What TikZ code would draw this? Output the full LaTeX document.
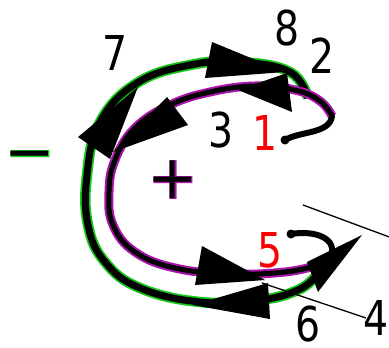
\documentclass[tikz,border=0pt]{standalone}
\usepackage{fontspec}
\setmainfont{DejaVu Sans}
\newfontfamily\numfont[FakeStretch=0.82]{DejaVu Sans}
\definecolor{cGlow}{RGB}{20,200,20}
\definecolor{cPurple}{RGB}{170,20,170}
\definecolor{cRed}{RGB}{250,0,0}
\tikzset{
  outerpath/.style={line width=7pt, black, preaction={draw=cGlow, line width=10.5pt}},
  innerpath/.style={line width=5pt, black, preaction={draw=cPurple, line width=9pt}},
  hookline/.style={line width=6pt, line cap=round},
  headtri/.style={fill=black},
  leader/.style={line width=1.3pt},
  num/.style={font=\numfont\fontsize{48}{48}\selectfont, inner sep=0pt, text depth=0pt},
  rednum/.style={num, text=cRed},
  sign/.style={font=\fontsize{60}{60}\selectfont, inner sep=0pt},
}

\begin{document}
\begin{tikzpicture}[x=1pt,y=-1pt]
  \useasboundingbox (0,0) rectangle (389,348);

  % ---- outer loop (6, 7, 8) ----
  \draw[outerpath] plot[smooth, tension=0.7] coordinates {(308,98) (290,72) (240,62) (190,65)
    (137,83) (100,122) (87,175) (88,225) (105,262) (140,288) (200,302) (260,300) (298,290) (316,276)};

  % ---- inner loop (1 .. 5) ----
  \draw[innerpath] plot[smooth, tension=0.7] coordinates {(332,116) (320,101) (295,90) (255,86)
    (210,92) (170,105) (135,128) (115,160) (109,192) (113,225) (135,252) (175,268) (230,274)
    (285,272) (318,265)};

  % ---- hooks ----
  \coordinate (hookA) at (332,116);
  \coordinate (dotA) at (285,140);
  \draw[hookline] (hookA) .. controls (330,134) and (300,131) .. (dotA);
  \fill (dotA) circle (4.5pt);
  \coordinate (dotB) at (291,234);
  \coordinate (hookB) at (330,260);
  \draw[hookline] (dotB) .. controls (315,230) and (340,238) .. (hookB);
  \fill (dotB) circle (4.5pt);

  % ---- arrow heads ----
  \fill[headtri] (212,42) -- (285,72) -- (205,78) -- cycle;   % 8
  \fill[headtri] (238,90) -- (287,73) -- (292,112) -- cycle;  % 2
  \fill[headtri] (113,152) -- (167,97) -- (188,125) -- cycle; % 3
  \fill[headtri] (138,87) -- (110,159) -- (78,137) -- cycle;  % 7
  \fill[headtri] (202,246) -- (265,280) -- (195,285) -- cycle; % 4
  \fill[headtri] (193,305) -- (268,283) -- (270,319) -- cycle; % 6
  \fill[headtri] (362,235) -- (318,292) -- (307,262) -- cycle;

  % ---- leaders ----
  \node[num] (n4) at (376,318) {4};
  \coordinate (lead4) at (262,283);
  \draw[leader] (lead4) -- (366,318);
  \coordinate (leadA) at (303,205);
  \coordinate (leadB) at (392,238);
  \draw[leader] (leadA) -- (leadB);

  % ---- labels ----
  \node[num] (n7) at (115,53) {7};
  \node[num] (n8) at (287,28) {8};
  \node[num] (n2) at (322,56) {2};
  \node[num] (n3) at (221,130) {3};
  \node[rednum] (n1) at (265,133) {1};
  \node[rednum] (n5) at (270,250) {5};
  \node[num] (n6) at (308,324) {6};

  % charges
  \node[sign, font=\bfseries\fontsize{62}{62}\selectfont, text=cPurple] (plusbg) at (173,180) {+};
  \node[sign, text=black] (plus) at (173,180) {+};
  \node[sign, font=\bfseries\fontsize{62}{62}\selectfont, text=cGlow] (minusbg) at (30,162) {−};
  \node[sign, text=black] (minus) at (30,162) {−};
\end{tikzpicture}
\end{document}
